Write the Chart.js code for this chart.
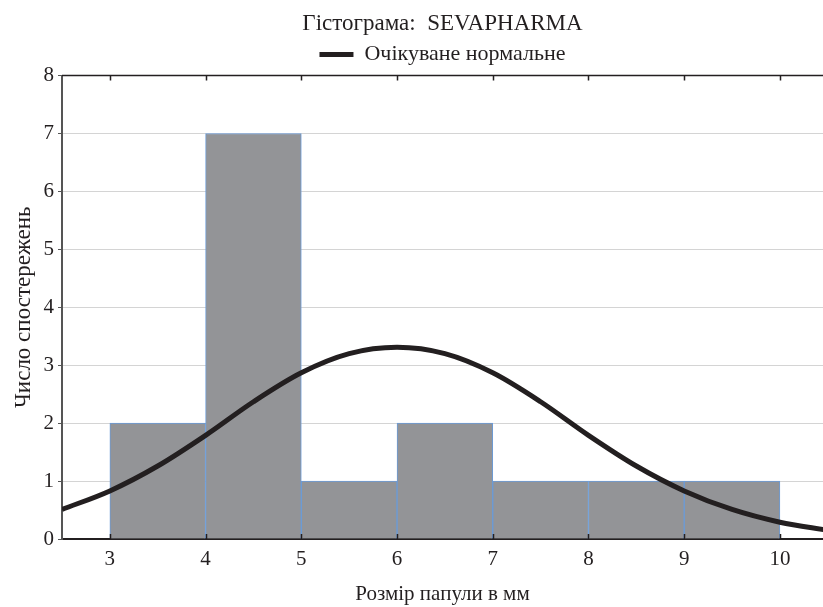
<!DOCTYPE html>
<html>
<head>
    <title>Гістограма: SEVAPHARMA</title>
    <meta charset="utf-8">
    <style>
        body {
            margin: 0;
            padding: 0;
            background-color: #fff;
        }
        #chart-box {
            width: 823px;
            height: 607px;
        }
    </style>
    <script src="https://cdn.jsdelivr.net/npm/chart.js"></script>
</head>
<body>
    <div id="chart-box">
        <canvas id="hist-chart"></canvas>
    </div>

    <script>
        // histogram bins (lower edge, mm) and counts
        const binStarts = [3, 4, 5, 6, 7, 8, 9];
        const binCounts = [2, 7, 1, 2, 1, 1, 1];

        // expected normal curve
        const curveX = [2.5, 3, 3.5, 4, 4.5, 5, 5.5, 6, 6.5, 7, 7.5, 8, 8.5, 9, 9.5, 10, 10.5];
        const curveY = [0.51, 0.83, 1.26, 1.79, 2.37, 2.87, 3.2, 3.31, 3.2, 2.87, 2.37, 1.79, 1.26, 0.83, 0.51, 0.29, 0.15];

        const xTicks = [3, 4, 5, 6, 7, 8, 9, 10];
        const yTicks = [0, 1, 2, 3, 4, 5, 6, 7, 8];

        const font = 'Liberation Serif';
        const ink = '#231f20';

        // inward tick marks on top and bottom + top frame line
        const frameTicks = {
            id: 'frameTicks',
            afterDraw(chart) {
                const ctx = chart.ctx;
                const area = chart.chartArea;
                const xs = chart.scales.x;
                ctx.save();
                ctx.strokeStyle = ink;
                ctx.lineWidth = 1.5;
                ctx.beginPath();
                ctx.moveTo(area.left, area.top);
                ctx.lineTo(area.right, area.top);
                xTicks.forEach(v => {
                    const px = Math.round(xs.getPixelForValue(v)) + 0.5;
                    ctx.moveTo(px, area.top);
                    ctx.lineTo(px, area.top + 5);
                    ctx.moveTo(px, area.bottom);
                    ctx.lineTo(px, area.bottom - 5);
                });
                ctx.stroke();
                ctx.restore();
            }
        };

        new Chart(document.getElementById('hist-chart'), {
            data: {
                datasets: [{
                    type: 'line',
                    label: 'Очікуване нормальне',
                    data: curveX.map((x, i) => ({ x: x, y: curveY[i] })),
                    borderColor: ink,
                    backgroundColor: ink,
                    borderWidth: 5,
                    pointRadius: 0,
                    cubicInterpolationMode: 'monotone',
                    fill: false,
                    order: 0
                }, {
                    type: 'bar',
                    label: 'bins',
                    data: binStarts.map((s, i) => ({ x: s + 0.5, y: binCounts[i] })),
                    backgroundColor: '#939497',
                    borderColor: '#6a9bd8',
                    borderWidth: 1,
                    barPercentage: 1,
                    categoryPercentage: 1,
                    order: 1
                }]
            },
            options: {
                responsive: true,
                maintainAspectRatio: false,
                animation: false,
                layout: { padding: { top: 0, right: 0, left: 10, bottom: 0 } },
                plugins: {
                    title: {
                        display: true,
                        text: 'Гістограма:  SEVAPHARMA',
                        color: ink,
                        fullSize: false,
                        font: { family: font, size: 23, weight: 'normal' },
                        padding: { top: 10, bottom: 0 }
                    },
                    legend: {
                        display: true,
                        fullSize: false,
                        labels: {
                            color: ink,
                            font: { family: font, size: 22 },
                            boxWidth: 34,
                            boxHeight: 5,
                            padding: 6,
                            filter(item) {
                                item.lineWidth = 0;
                                return item.text !== 'bins';
                            }
                        }
                    },
                    tooltip: { enabled: false }
                },
                scales: {
                    x: {
                        type: 'linear',
                        position: 'bottom',
                        offset: false,
                        min: 2.5,
                        max: 10.45,
                        afterBuildTicks(scale) {
                            scale.ticks = xTicks.map(v => ({ value: v }));
                        },
                        afterFit(scale) {
                            scale.height = 68;
                        },
                        grid: { display: false, offset: false },
                        border: { display: true, color: ink, width: 2 },
                        ticks: {
                            color: ink,
                            font: { family: font, size: 21 },
                            padding: 0
                        },
                        title: {
                            display: true,
                            text: 'Розмір папули в мм',
                            color: ink,
                            font: { family: font, size: 21 },
                            padding: { top: 5, bottom: 0 }
                        }
                    },
                    y: {
                        min: 0,
                        max: 8,
                        afterBuildTicks(scale) {
                            scale.ticks = yTicks.map(v => ({ value: v }));
                        },
                        afterFit(scale) {
                            scale.width = 52;
                        },
                        grid: {
                            color: '#d4d4d4',
                            lineWidth: 1,
                            tickLength: 4,
                            tickColor: '#555'
                        },
                        border: { display: true, color: '#555', width: 2 },
                        ticks: {
                            color: ink,
                            font: { family: font, size: 21 },
                            padding: 4
                        },
                        title: {
                            display: true,
                            text: 'Число спостережень',
                            color: ink,
                            font: { family: font, size: 23 },
                            padding: 0
                        }
                    }
                }
            },
            plugins: [frameTicks]
        });
    </script>
</body>
</html>
